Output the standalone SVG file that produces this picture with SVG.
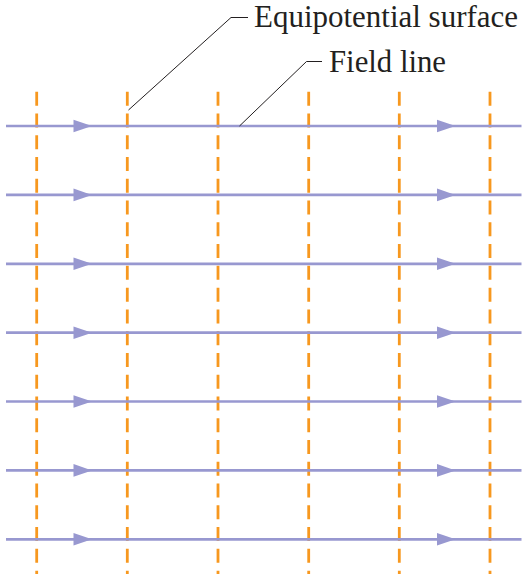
<svg xmlns="http://www.w3.org/2000/svg" xmlns:xlink="http://www.w3.org/1999/xlink" width="526" height="574" viewBox="0 0 526 574">
  <defs>
    <style>
      .field { stroke: #9898d0; stroke-width: 2.7; fill: none; }
      .arrow { fill: #9898d0; stroke: none; }
      .equi { stroke: #f7981f; stroke-width: 2.8; stroke-dasharray: 14 7.77; fill: none; }
      .leader { stroke: #231f20; stroke-width: 1; fill: none; }
      .label { font-size: 31px; fill: #231f20; }
    </style>
    <path id="ah" d="M0,-6.3 L18.5,0 L0,6.3 Z"/>
  </defs>
  <rect width="526" height="574" fill="#ffffff"/>

  <g id="equipotentials">
    <line class="equi" x1="36.7" y1="91.7" x2="36.7" y2="574"/>
    <line class="equi" x1="127.3" y1="91.7" x2="127.3" y2="574"/>
    <line class="equi" x1="218" y1="91.7" x2="218" y2="574"/>
    <line class="equi" x1="308.7" y1="91.7" x2="308.7" y2="574"/>
    <line class="equi" x1="399.3" y1="91.7" x2="399.3" y2="574"/>
    <line class="equi" x1="490" y1="91.7" x2="490" y2="574"/>
  </g>

  <g id="field-lines">
    <g id="field-1"><line class="field" x1="6" y1="126" x2="521.5" y2="126"/><use xlink:href="#ah" class="arrow" x="73.5" y="126"/><use xlink:href="#ah" class="arrow" x="437" y="126"/></g>
    <g id="field-2"><line class="field" x1="6" y1="194.9" x2="521.5" y2="194.9"/><use xlink:href="#ah" class="arrow" x="73.5" y="194.9"/><use xlink:href="#ah" class="arrow" x="437" y="194.9"/></g>
    <g id="field-3"><line class="field" x1="6" y1="263.8" x2="521.5" y2="263.8"/><use xlink:href="#ah" class="arrow" x="73.5" y="263.8"/><use xlink:href="#ah" class="arrow" x="437" y="263.8"/></g>
    <g id="field-4"><line class="field" x1="6" y1="332.7" x2="521.5" y2="332.7"/><use xlink:href="#ah" class="arrow" x="73.5" y="332.7"/><use xlink:href="#ah" class="arrow" x="437" y="332.7"/></g>
    <g id="field-5"><line class="field" x1="6" y1="401.5" x2="521.5" y2="401.5"/><use xlink:href="#ah" class="arrow" x="73.5" y="401.5"/><use xlink:href="#ah" class="arrow" x="437" y="401.5"/></g>
    <g id="field-6"><line class="field" x1="6" y1="470.4" x2="521.5" y2="470.4"/><use xlink:href="#ah" class="arrow" x="73.5" y="470.4"/><use xlink:href="#ah" class="arrow" x="437" y="470.4"/></g>
    <g id="field-7"><line class="field" x1="6" y1="539.3" x2="521.5" y2="539.3"/><use xlink:href="#ah" class="arrow" x="73.5" y="539.3"/><use xlink:href="#ah" class="arrow" x="437" y="539.3"/></g>
  </g>

  <g id="connectors">
    <polyline class="leader" points="128.5,110 231,17.5 248,17.5"/>
    <polyline class="leader" points="239.5,126 306.5,61.5 322,61.5"/>
  </g>

  <g id="label-equipotential">
    <text class="label" font-family="'Liberation Serif', 'Times New Roman', serif" x="254" y="27" textLength="264" lengthAdjust="spacingAndGlyphs">Equipotential surface</text>
  </g>
  <g id="label-field-line">
    <text class="label" font-family="'Liberation Serif', 'Times New Roman', serif" x="329" y="72" textLength="117" lengthAdjust="spacingAndGlyphs">Field line</text>
  </g>
</svg>
